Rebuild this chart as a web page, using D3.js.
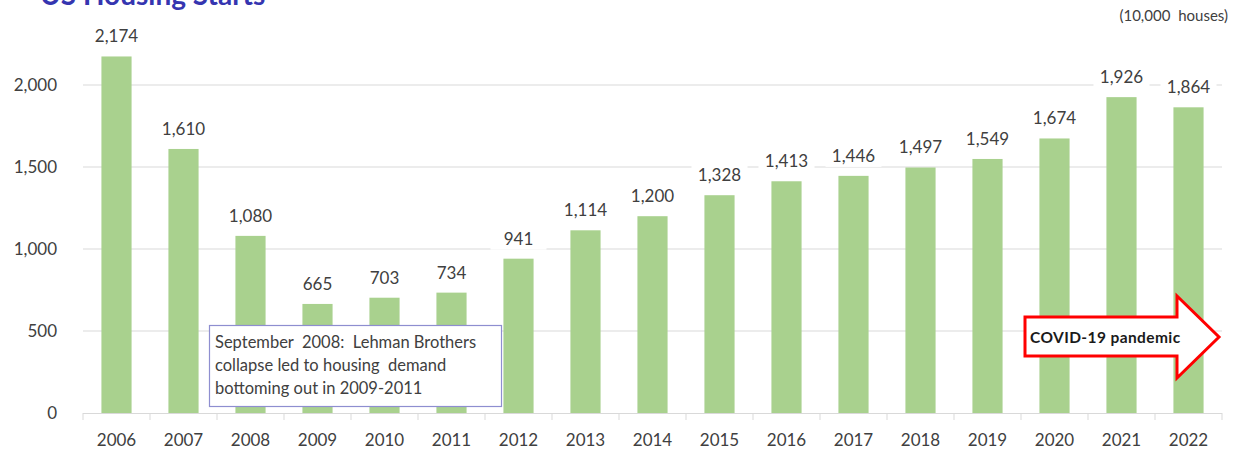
<!DOCTYPE html>
<html>
<head>
<meta charset="utf-8">
<script src="https://cdn.jsdelivr.net/npm/d3@7"></script>
<style>
  body { margin: 0; background: #fff; }
  text { font-family: Lato, "Open Sans", sans-serif; }
</style>
</head>
<body>
<div id="chart"></div>
<script>
(function(d3) {
  'use strict';

  var years = ['2006', '2007', '2008', '2009', '2010', '2011', '2012', '2013', '2014',
               '2015', '2016', '2017', '2018', '2019', '2020', '2021', '2022'];
  var starts = [2174, 1610, 1080, 665, 703, 734, 941, 1114, 1200,
                1328, 1413, 1446, 1497, 1549, 1674, 1926, 1864];
  var yTicks = [0, 500, 1000, 1500, 2000];
  var noteLines = ['September  2008:  Lehman Brothers',
                   'collapse led to housing  demand',
                   'bottoming out in 2009-2011'];

  var width = 1240, height = 451;
  var left = 83, right = 1222, top = 3, bottom = 413;

  var svg = d3.select('#chart').append('svg')
    .attr('width', width)
    .attr('height', height);

  var x = d3.scaleBand().domain(years).range([left, right]).paddingInner(0.55).paddingOuter(0.275);
  var band = d3.scaleBand().domain(years).range([left, right]);
  var y = d3.scaleLinear().domain([0, 2500]).range([bottom, top]);
  var fmt = d3.format(',');

  // title (cut off at top like the source)
  svg.append('text')
    .attr('x', 40).attr('y', 5)
    .attr('font-size', 28).attr('font-weight', 'bold')
    .attr('fill', '#3535b0')
    .text('US Housing Starts');

  svg.append('text')
    .attr('x', 1228).attr('y', 21)
    .attr('text-anchor', 'end')
    .attr('font-size', 15).attr('fill', '#404040')
    .attr('word-spacing', 4)
    .text('(10,000 houses)');

  // grid lines
  svg.append('g').selectAll('line')
    .data(yTicks.filter(function(d) { return d > 0; }))
    .enter().append('line')
      .attr('x1', left).attr('x2', right)
      .attr('y1', function(d) { return y(d); })
      .attr('y2', function(d) { return y(d); })
      .attr('stroke', '#d9d9d9').attr('stroke-width', 1);

  // y axis labels
  svg.append('g').selectAll('text')
    .data(yTicks)
    .enter().append('text')
      .attr('x', 57)
      .attr('y', function(d) { return y(d); })
      .attr('dy', '0.35em')
      .attr('text-anchor', 'end')
      .attr('font-size', 17).attr('fill', '#404040')
      .text(function(d) { return fmt(d); });

  // bars
  svg.append('g').selectAll('rect')
    .data(starts)
    .enter().append('rect')
      .attr('x', function(d, i) { return x(years[i]); })
      .attr('y', function(d) { return y(d); })
      .attr('width', x.bandwidth())
      .attr('height', function(d) { return bottom - y(d); })
      .attr('fill', '#a9d18e');

  // value labels with white backing
  var labels = svg.append('g').selectAll('g')
    .data(starts)
    .enter().append('g')
      .attr('transform', function(d, i) {
        return 'translate(' + (x(years[i]) + x.bandwidth() / 2) + ',' + (y(d) - 14) + ')';
      });
  labels.append('rect')
    .attr('x', -28).attr('y', -17).attr('width', 56).attr('height', 22)
    .attr('fill', '#fff');
  labels.append('text')
    .attr('text-anchor', 'middle')
    .attr('font-size', 17).attr('fill', '#404040')
    .text(function(d) { return fmt(d); });

  // x axis
  svg.append('line')
    .attr('x1', left).attr('x2', right)
    .attr('y1', bottom + 0.5).attr('y2', bottom + 0.5)
    .attr('stroke', '#d9d9d9');
  svg.append('g').selectAll('line')
    .data(years.concat(['end']))
    .enter().append('line')
      .attr('x1', function(d, i) { return left + band.step() * i; })
      .attr('x2', function(d, i) { return left + band.step() * i; })
      .attr('y1', bottom).attr('y2', bottom + 7)
      .attr('stroke', '#d9d9d9');
  svg.append('g').selectAll('text')
    .data(years)
    .enter().append('text')
      .attr('x', function(d) { return band(d) + band.bandwidth() / 2; })
      .attr('y', 446)
      .attr('text-anchor', 'middle')
      .attr('font-size', 17).attr('fill', '#404040')
      .text(function(d) { return d; });

  // Lehman note
  var note = svg.append('g');
  note.append('rect')
    .attr('x', 209.5).attr('y', 325.5).attr('width', 292).attr('height', 81)
    .attr('fill', '#fff').attr('stroke', '#8e8ed0').attr('stroke-width', 1.2);
  note.selectAll('text')
    .data(noteLines)
    .enter().append('text')
      .attr('x', 215)
      .attr('y', function(d, i) { return 348 + i * 23; })
      .attr('font-size', 16.5).attr('fill', '#404040')
      .style('white-space', 'pre')
      .text(function(d) { return d; });

  // COVID arrow
  var arrow = svg.append('g');
  arrow.append('path')
    .attr('d', 'M1025,317 L1177,317 L1177,296 L1219,337 L1177,378 L1177,356 L1025,356 Z')
    .attr('fill', '#fff').attr('stroke', '#ff0000').attr('stroke-width', 3)
    .attr('stroke-linejoin', 'miter');
  arrow.append('text')
    .attr('x', 1030).attr('y', 343)
    .attr('font-size', 15.5).attr('font-weight', 'bold').attr('fill', '#1a1a1a')
    .attr('letter-spacing', 0.4)
    .text('COVID-19 pandemic');
})(window.d3);
</script>
</body>
</html>
